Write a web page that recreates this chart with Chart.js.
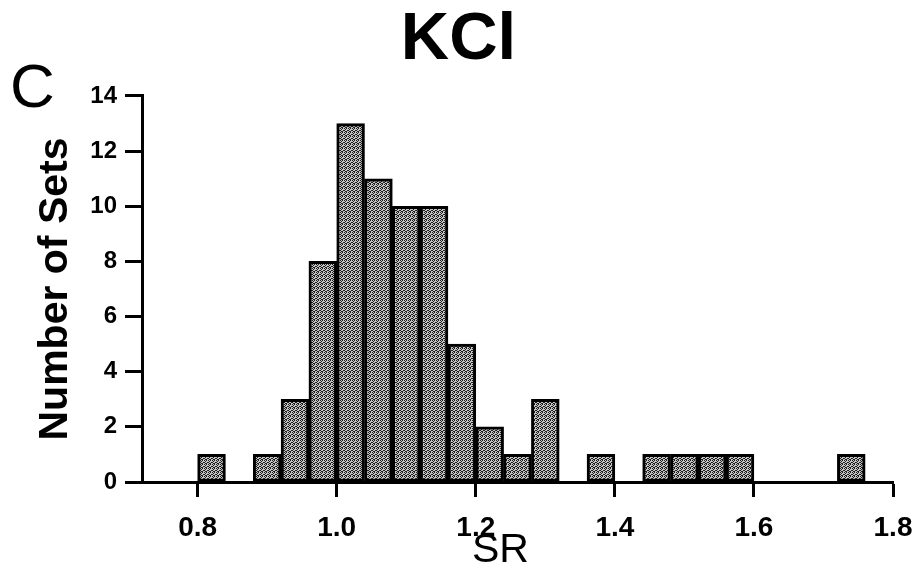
<!DOCTYPE html>
<html>
<head>
<meta charset="utf-8">
<script src="https://cdn.jsdelivr.net/npm/chart.js@4/dist/chart.umd.min.js"></script>
<style>
  body { margin: 0; background: #fff; }
  #wrap { position: relative; width: 913px; height: 581px; }
  #panel { position: absolute; left: 10px; top: 55px; font: 62px "Liberation Sans", Arial, sans-serif; line-height: 62px; color: #000; }
</style>
</head>
<body>
<div id="wrap">
  <canvas id="grafico"></canvas>
  <div id="panel">C</div>
</div>
<script>
// centri dei bin (larghezza 0.04) e numero di set
const centriBin = [0.82, 0.90, 0.94, 0.98, 1.02, 1.06, 1.10, 1.14, 1.18, 1.22, 1.26, 1.30, 1.38, 1.46, 1.50, 1.54, 1.58, 1.74];
const numeroSet = [1, 1, 3, 8, 13, 11, 10, 10, 5, 2, 1, 3, 1, 1, 1, 1, 1, 1];
const tickX = [0.8, 1.0, 1.2, 1.4, 1.6, 1.8];
const tickY = [0, 2, 4, 6, 8, 10, 12, 14];

// riempimento puntinato tipo stampa
function creaRetino() {
  const c = document.createElement('canvas');
  c.width = 4; c.height = 4;
  const g = c.getContext('2d');
  g.fillStyle = '#c4c4c4';
  g.fillRect(0, 0, 4, 4);
  g.fillStyle = '#1e1e1e';
  [[0, 0], [2, 0], [1, 1], [3, 2], [0, 2], [2, 3], [1, 3]].forEach(p => g.fillRect(p[0], p[1], 1, 1));
  return g.createPattern(c, 'repeat');
}

const ctx = document.getElementById('grafico').getContext('2d');
const grafico = new Chart(ctx, {
  type: 'bar',
  data: {
    datasets: [{
      data: centriBin.map((x, i) => ({ x: x, y: numeroSet[i] })),
      backgroundColor: creaRetino(),
      borderColor: '#000',
      borderWidth: 3,
      borderSkipped: false,
      barPercentage: 1,
      categoryPercentage: 1
    }]
  },
  options: {
    responsive: true,
    maintainAspectRatio: false,
    animation: false,
    layout: { padding: { left: 24, right: 20, top: 0, bottom: 0 } },
    plugins: {
      legend: { display: false },
      tooltip: { enabled: false },
      title: {
        display: true,
        text: 'KCl',
        color: '#000',
        font: { family: 'Liberation Sans', size: 67, weight: 'bold', lineHeight: 1.2 },
        padding: { top: 0, bottom: 15.6 }
      }
    },
    scales: {
      x: {
        type: 'linear',
        min: 0.72,
        max: 1.8,
        offset: false,
        afterBuildTicks: s => { s.ticks = tickX.map(v => ({ value: v })); },
        afterFit: s => { s.height = 99; s.paddingLeft = 0; s.paddingRight = 0; },
        border: { display: true, color: '#000', width: 3 },
        grid: { offset: false, drawOnChartArea: false, drawTicks: true, tickLength: 15, tickWidth: 3, tickColor: '#000' },
        ticks: {
          color: '#000',
          padding: 14,
          maxRotation: 0,
          font: { family: 'Liberation Sans', size: 28, weight: 'bold' },
          callback: v => v.toFixed(1)
        },
        title: {
          display: true,
          text: 'SR   ',
          color: '#000',
          font: { family: 'Liberation Sans', size: 41 },
          padding: { top: 0, bottom: 6 }
        }
      },
      y: {
        min: 0,
        max: 14,
        afterBuildTicks: s => { s.ticks = tickY.map(v => ({ value: v })); },
        afterFit: s => { s.width = 118; s.paddingTop = 0; s.paddingBottom = 0; },
        border: { display: true, color: '#000', width: 3 },
        grid: { drawOnChartArea: false, drawTicks: true, tickLength: 17, tickWidth: 3, tickColor: '#000' },
        ticks: {
          color: '#000',
          padding: 8,
          font: { family: 'Liberation Sans', size: 24, weight: 'bold' }
        },
        title: {
          display: true,
          text: 'Number of Sets',
          color: '#000',
          font: { family: 'Liberation Sans', size: 41, weight: 'bold' },
          padding: { top: 7, bottom: 0 }
        }
      }
    }
  }
});
</script>
</body>
</html>
